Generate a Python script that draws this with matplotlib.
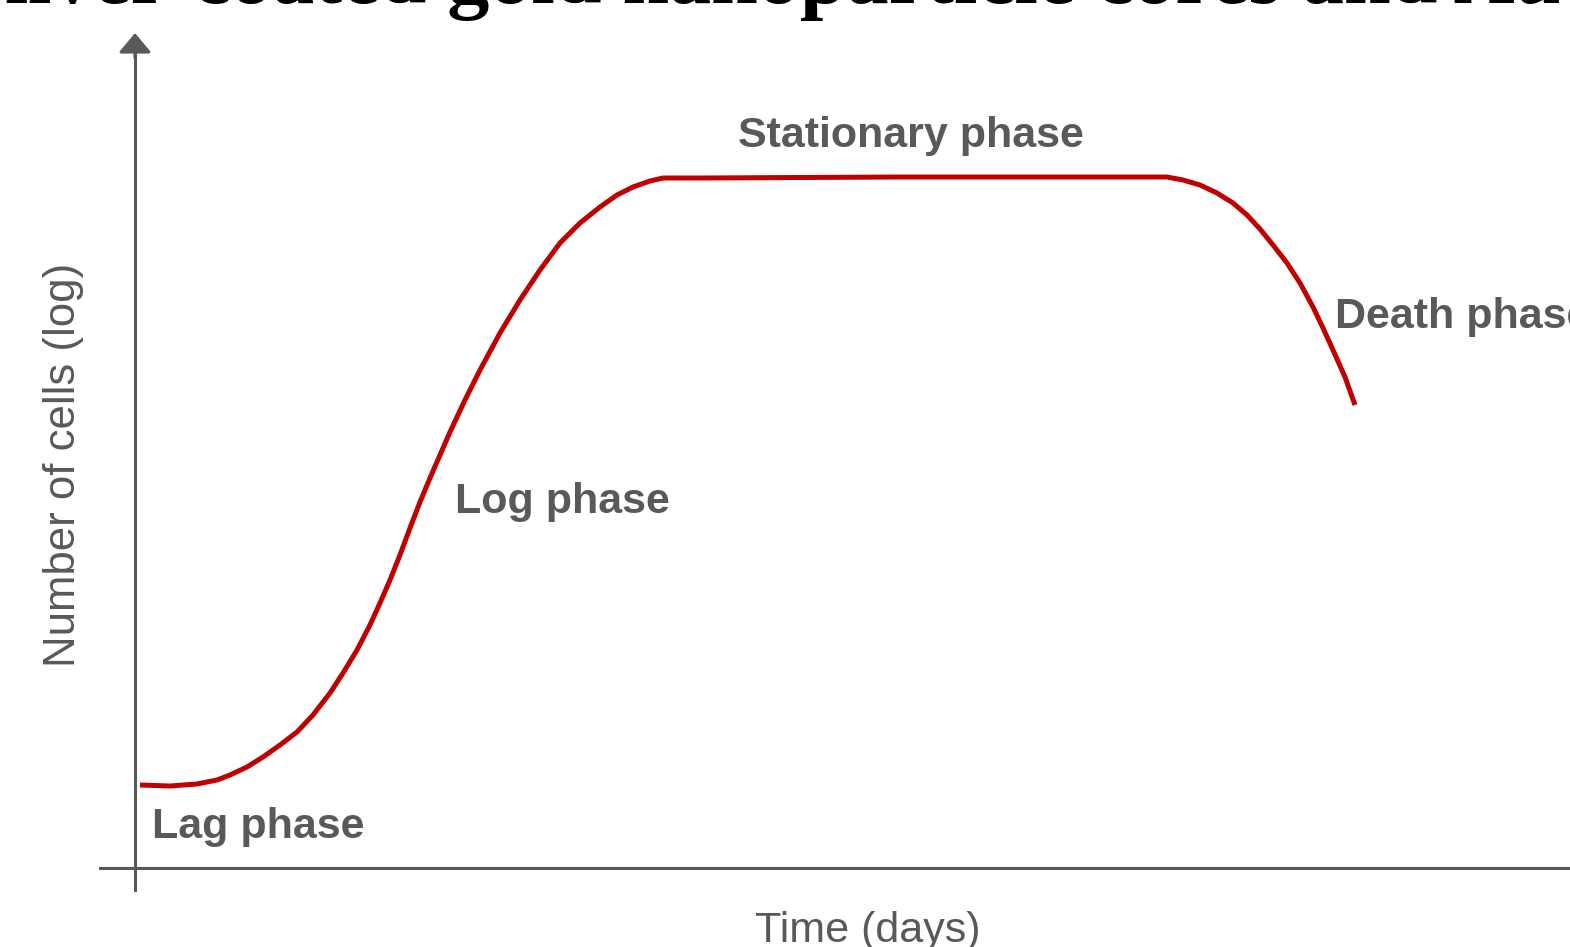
# plot.py
# Bacterial growth curve: lag, log, stationary and death phases.

import matplotlib.pyplot as plt

# ── Data ──────────────────────────────────────────────────────────────────────

time_days = [0.05, 0.35, 0.62, 0.82, 0.95, 1.12, 1.28, 1.45, 1.62, 1.78,
             1.95, 2.08, 2.22, 2.35, 2.45, 2.55, 2.65, 2.75, 2.85, 2.95,
             3.05, 3.15, 3.30, 3.45, 3.65, 3.85, 4.05, 4.25, 4.45, 4.65,
             4.82, 4.98, 5.15, 5.28, 5.65, 7.65, 9.65, 10.32, 10.48, 10.65,
             10.82, 10.98, 11.12, 11.25, 11.38, 11.52, 11.65, 11.78, 11.88,
             11.98, 12.10, 12.20]
log_cells = [0.83, 0.82, 0.84, 0.88, 0.93, 1.01, 1.11, 1.23, 1.36, 1.53,
             1.75, 1.95, 2.18, 2.43, 2.65, 2.88, 3.13, 3.40, 3.66, 3.90,
             4.13, 4.36, 4.68, 4.98, 5.35, 5.68, 5.98, 6.25, 6.45, 6.61,
             6.73, 6.81, 6.87, 6.90, 6.90, 6.91, 6.91, 6.91, 6.88, 6.83,
             6.75, 6.65, 6.53, 6.39, 6.23, 6.05, 5.85, 5.61, 5.40,
             5.18, 4.91, 4.63]

phase_names = ["Lag phase", "Log phase", "Stationary phase", "Death phase"]
phase_x     = [0.17, 3.20, 6.03, 12.00]
phase_y     = [0.30, 3.55, 7.21, 5.40]

title_text = "Silver-coated gold nanoparticle cores and Au"

# ── Style ──────────────────────────────────────────────────────────────────────

GREY = "#595959"
RED  = "#c00000"
plt.rcParams["font.family"] = ["Liberation Sans", "DejaVu Sans"]

W, H, DPI = 1570, 947, 100

fig = plt.figure(figsize=(W / DPI, H / DPI), dpi=DPI)
ax = fig.add_axes([0, 0, 1, 1])

# 1 data unit = 100 px; origin at the axis crossing (135, 868) px
ax.set_xlim(-1.35, (W - 135) / 100)
ax.set_ylim(-(H - 868) / 100, 8.68)

# ── Axes as spines crossing at the origin ─────────────────────────────────────

for side in ("top", "right"):
    ax.spines[side].set_visible(False)
for side in ("left", "bottom"):
    ax.spines[side].set_position(("data", 0))
    ax.spines[side].set_color(GREY)
    ax.spines[side].set_linewidth(2.2)
ax.spines["left"].set_bounds(-0.22, 8.2)
ax.spines["bottom"].set_bounds(-0.35, 14.35)
ax.set_xticks([])
ax.set_yticks([])

ax.annotate("", xy=(0, 8.35), xytext=(0, 8.1),
            arrowprops=dict(arrowstyle="-|>,head_length=0.6,head_width=0.5",
                            mutation_scale=20, color=GREY, lw=2.2,
                            shrinkA=0, shrinkB=0))

# ── Growth curve ───────────────────────────────────────────────────────────────

ax.plot(time_days, log_cells, color=RED, linewidth=3.6,
        solid_capstyle="butt", solid_joinstyle="round")

for name, x, y in zip(phase_names, phase_x, phase_y):
    ax.text(x, y, name, fontsize=31, fontweight="bold", color=GREY,
            ha="left", va="baseline")

ax.text(-0.71, 4.03, "Number of cells (log)", fontsize=31.5, color=GREY,
        rotation=90, ha="center", va="center")
ax.text(7.33, -0.74, "Time (days)", fontsize=31, color=GREY,
        ha="center", va="baseline")

# Cropped heading from the page this figure was cut out of
fig.text(-42 / W, 1 - 3 / H, title_text, fontsize=60.5, fontweight="bold",
         family=["Liberation Serif", "DejaVu Serif"], color="black",
         ha="left", va="baseline")

fig.savefig("out.png", dpi=DPI)
